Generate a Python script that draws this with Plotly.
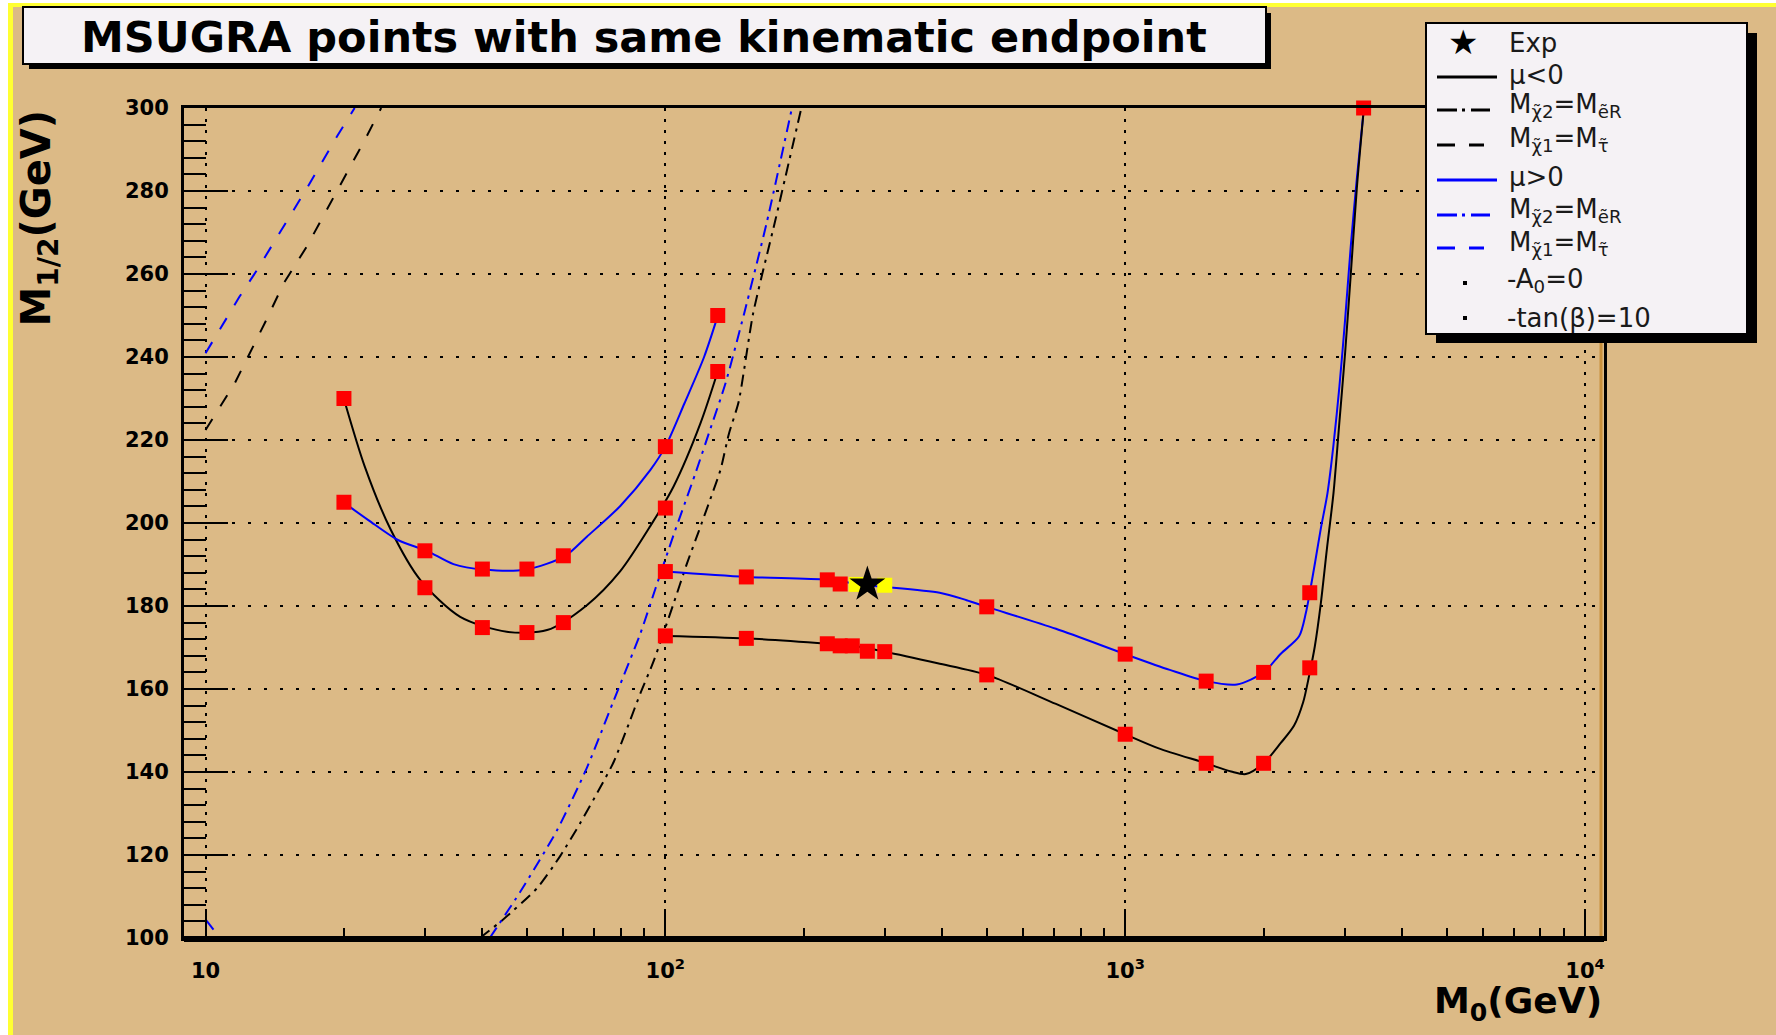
import plotly.graph_objects as go

# ---------------- data ----------------
x_tick_vals = [10, 100, 1000, 10000]
x_tick_text = ["10", "10<sup>2</sup>", "10<sup>3</sup>", "10<sup>4</sup>"]
x_minor_vals = [20, 30, 40, 50, 60, 70, 80, 90,
                200, 300, 400, 500, 600, 700, 800, 900,
                2000, 3000, 4000, 5000, 6000, 7000, 8000, 9000]
y_tick_vals = [100, 120, 140, 160, 180, 200, 220, 240, 260, 280, 300]
y_tick_text = ["100", "120", "140", "160", "180", "200", "220", "240", "260", "280", "300"]
y_minor_vals = [v for v in range(104, 300, 4) if v % 20 != 0]

# mu<0 (black), low-M0 branch
neg_up_m0 = [20, 22.2, 25.3, 29.3, 35.8, 45.2, 55.3, 67.5, 79.8, 92.8, 104.2, 119.2, 130]
neg_up_m12 = [229.9, 213.6, 198.3, 186.3, 177.4, 173.8, 174.2, 180.2, 188.4, 199.3, 208.8, 224.0, 236.5]
# mu<0 (black), high-M0 branch
neg_lo_m0 = [100, 150, 225, 255, 300, 391, 500, 707, 1000, 1183, 1500, 1700, 1830, 2000,
             2180, 2330, 2438, 2514, 2585, 2664, 2745, 2838, 2919, 3008, 3095, 3190, 3305]
neg_lo_m12 = [172.8, 172.2, 170.9, 170.4, 169.0, 166.2, 163.4, 156.4, 149.1, 145.7, 142.1, 140.1,
              139.5, 142.1, 147.0, 151.2, 156.8, 163.4, 170.3, 180.7, 193.6, 207.2, 223.5, 241.0,
              260.0, 280.7, 300.0]
# mu>0 (blue), low-M0 branch
pos_up_m0 = [20, 22.6, 26.2, 30.3, 34.6, 40.2, 49.8, 60.6, 67.5, 79.8, 92.8, 100, 110,
             121.4, 130]
pos_up_m12 = [204.9, 200.7, 195.9, 193.3, 190.1, 188.8, 188.8, 192.1, 196.7, 204.1, 212.8, 218.4,
              228.8, 240.0, 249.9]
# mu>0 (blue), high-M0 branch
pos_lo_m0 = [100, 150, 225, 275, 395, 452, 500, 707, 1000, 1250, 1500, 1750, 2000, 2180, 2389,
             2471, 2520, 2589, 2664, 2754, 2838, 2924, 3008, 3095, 3190, 3305]
pos_lo_m12 = [188.3, 187.0, 186.3, 185.0, 183.2, 181.4, 179.8, 174.5, 168.4, 164.6, 161.9, 161.1,
              164.0, 168.5, 172.7, 178.3, 183.2, 190.6, 198.7, 207.2, 218.8, 233.0, 249.0, 266.8,
              283.0, 300.0]

# constraint lines: M(chi2)=M(eR) (dash-dot) and M(chi1)=M(stau) (dashed)
neg_chi2_m0 = [39.5, 44.2, 52.6, 59.1, 65.3, 72.2, 77.2, 83.2, 88.2, 94.3, 104.2, 111.4, 118.2,
               125.3, 131.8, 137.4, 144.4, 155.2, 173.5, 197.6]
neg_chi2_m12 = [100, 104.3, 112.0, 119.8, 127.7, 136.3, 142.4, 151.5, 158.9, 166.7, 180.6, 190.2,
                198.0, 205.8, 212.8, 221.4, 229.3, 250.5, 273.0, 300.0]
pos_chi2_m0 = [41.5, 48.4, 58.1, 67.5, 77.2, 88.2, 95.1, 104.2, 116.2, 125.3, 135.1, 148.4, 166,
               188.5]
pos_chi2_m12 = [100, 111.2, 125.9, 141.0, 157.2, 173.3, 184.1, 197.1, 211.9, 222.7, 233.6, 250.5,
                272.2, 300.0]
neg_stau_m0 = [10, 11.58, 13.5, 14.8, 16.6, 19.4, 22.2, 24.1]
neg_stau_m12 = [222.4, 233.7, 248.5, 257.8, 266.6, 280.2, 292.3, 300.0]
pos_stau_m0 = [10, 11.85, 12.95, 14.8, 16.6, 19.4, 21.1, None, 10, 10.75]
pos_stau_m12 = [240.9, 254.5, 261.0, 271.4, 280.6, 293.5, 300.0, None, 104.5, 100.0]

# scan points (red markers)
pts_m0 = [20, 30, 40, 50, 60, 100, 130, 20, 30, 40, 50, 60, 100, 130,
          100, 150, 225, 240, 255, 275, 300, 500, 1000, 1500, 2000, 2520, 3300,
          100, 150, 225, 240, 500, 1000, 1500, 2000, 2520]
pts_m12 = [230.0, 184.4, 174.8, 173.6, 176.0, 203.6, 236.5, 205.0, 193.3, 188.9, 188.9, 192.1, 218.4, 250.0,
           172.8, 172.2, 170.9, 170.4, 170.4, 169.1, 169.0, 163.4, 149.1, 142.1, 142.1, 165.1, 300.0,
           188.3, 187.0, 186.3, 185.3, 179.8, 168.4, 161.9, 164.0, 183.2]
near_m0 = [260, 300]
near_m12 = [185.2, 185.0]
exp_m0 = [275]
exp_m12 = [185.2]

# ---------------- layout geometry helpers ----------------
W, H = 1776, 1035
L, R, T, B = 184, 1604, 108, 938


def px(x):
    return (x - L) / (R - L)


def py(y):
    return (B - y) / (B - T)


TAN = "rgb(220,186,134)"
BOX = "#F5F2F5"
BLUE = "#0000FF"
FONT = "DejaVu Sans"

fig = go.Figure()

line_w = 2
fig.add_trace(go.Scatter(x=neg_stau_m0, y=neg_stau_m12, mode="lines",
                         line=dict(color="black", width=line_w, dash="13px,15px")))
fig.add_trace(go.Scatter(x=pos_stau_m0, y=pos_stau_m12, mode="lines",
                         line=dict(color=BLUE, width=line_w, dash="13px,15px")))
fig.add_trace(go.Scatter(x=neg_chi2_m0, y=neg_chi2_m12, mode="lines",
                         line=dict(color="black", width=line_w, dash="12px,6px,3px,6px",
                                   shape="spline", smoothing=0.6)))
fig.add_trace(go.Scatter(x=pos_chi2_m0, y=pos_chi2_m12, mode="lines",
                         line=dict(color=BLUE, width=line_w, dash="12px,6px,3px,6px",
                                   shape="spline", smoothing=0.6)))
for xs, ys, c in [(neg_up_m0, neg_up_m12, "black"), (pos_up_m0, pos_up_m12, BLUE),
                  (pos_lo_m0, pos_lo_m12, BLUE), (neg_lo_m0, neg_lo_m12, "black")]:
    fig.add_trace(go.Scatter(x=xs, y=ys, mode="lines",
                             line=dict(color=c, width=line_w, shape="spline", smoothing=0.8)))

fig.add_trace(go.Scatter(x=pts_m0, y=pts_m12, mode="markers", cliponaxis=False,
                         marker=dict(symbol="square", size=15, color="#FF0000", line=dict(width=0))))
fig.add_trace(go.Scatter(x=near_m0, y=near_m12, mode="markers", cliponaxis=False,
                         marker=dict(symbol="square", size=15, color="#FFFF00", line=dict(width=0))))
fig.add_trace(go.Scatter(x=exp_m0, y=exp_m12, mode="markers", cliponaxis=False,
                         marker=dict(symbol="star", size=27, color="black", line=dict(width=0))))

tickfont = dict(family=FONT, size=21, color="black", weight="bold")
fig.update_xaxes(type="log", range=[0.9532, 4.0413], tickmode="array",
                 tickvals=x_tick_vals, ticktext=x_tick_text, tickfont=tickfont,
                 ticks="inside", ticklen=29, tickwidth=2, tickcolor="black",
                 ticklabelstandoff=12,
                 showgrid=True, gridcolor="black", gridwidth=2, griddash="3px,8px",
                 showline=True, linecolor="black", linewidth=3, mirror=True, zeroline=False,
                 minor=dict(tickmode="array", tickvals=x_minor_vals, ticks="inside",
                            ticklen=10, tickwidth=2, tickcolor="black", showgrid=False))
fig.update_yaxes(range=[100, 300], tickmode="array", tickvals=y_tick_vals, ticktext=y_tick_text,
                 tickfont=tickfont, ticks="inside", ticklen=44, tickwidth=2, tickcolor="black",
                 ticklabelstandoff=8,
                 showgrid=True, gridcolor="black", gridwidth=2, griddash="3px,13px",
                 showline=True, linecolor="black", linewidth=3, mirror=True, zeroline=False,
                 minor=dict(tickmode="array", tickvals=y_minor_vals, ticks="inside",
                            ticklen=22, tickwidth=2, tickcolor="black", showgrid=False))

shapes = []


def rect(x0, y0, x1, y1, fill, line_color=None, lw=0, layer="above"):
    shapes.append(dict(type="rect", xref="paper", yref="paper", x0=px(x0), x1=px(x1),
                       y0=py(y1), y1=py(y0), fillcolor=fill, layer=layer,
                       line=dict(width=lw, color=line_color or fill)))


def hline(x0, x1, y, color, width, dash="solid"):
    shapes.append(dict(type="line", xref="paper", yref="paper", x0=px(x0), x1=px(x1),
                       y0=py(y), y1=py(y), layer="above",
                       line=dict(color=color, width=width, dash=dash)))


# page borders (white / yellow strips)
rect(0, 0, 8, H, "white")
rect(8, 0, 13, H, "#FFFF33")
rect(0, 0, W, 3, "white")
rect(8, 3, W, 7, "#FFFF33")
# thin brown strip inside right frame, thick bottom frame
shapes.append(dict(type="line", xref="paper", yref="paper", x0=px(1601), x1=px(1601), y0=0, y1=1,
                   layer="above", line=dict(color="#C8903C", width=3)))
hline(L, R, 939, "black", 6)

# title box
rect(29, 13, 1271, 69, "black")
rect(23, 7, 1266, 64, BOX, "black", 2)
# legend box
rect(1436, 33, 1757, 343, "black")
rect(1426, 23, 1747, 334, BOX, "black", 2)

# legend line samples
hline(1437, 1497, 77, "black", 3)
hline(1437, 1490, 110, "black", 3, "20px,5px,3px,6px")
hline(1437, 1484, 145, "black", 3, "18px,14px")
hline(1437, 1497, 180, BLUE, 3)
hline(1437, 1490, 215, BLUE, 3, "20px,5px,3px,6px")
hline(1437, 1484, 248, BLUE, 3, "18px,14px")
rect(1463, 281, 1467, 285, "black")
rect(1463, 316, 1467, 320, "black")

annotations = []


def text(x, y, s, size, xanchor="left", yanchor="middle", bold=False, angle=0, color="black"):
    annotations.append(dict(x=px(x), y=py(y), xref="paper", yref="paper", text=s, showarrow=False,
                            xanchor=xanchor, yanchor=yanchor, textangle=angle,
                            font=dict(family=FONT, size=size, color=color,
                                      weight="bold" if bold else "normal")))


text(644, 37, "MSUGRA points with same kinematic endpoint", 43, xanchor="center", bold=True)
text(38, T, "M<sub>1/2</sub>(GeV)", 40, xanchor="center", yanchor="top", bold=True, angle=-90)
text(R, 1003, "M<sub>0</sub>(GeV)", 36, xanchor="right", bold=True)

leg_c = "#1a1a1a"
LF = 26
text(1463, 42, "★", 34, xanchor="center", color="black")
text(1507, 43, "Exp", LF, color=leg_c)
text(1507, 75, "μ&lt;0", LF, color=leg_c)
text(1507, 106, "M<sub>χ̃2</sub>=M<sub>ẽR</sub>", LF, color=leg_c)
text(1507, 140, "M<sub>χ̃1</sub>=M<sub>τ̃</sub>", LF, color=leg_c)
text(1507, 177, "μ&gt;0", LF, color=leg_c)
text(1507, 210, "M<sub>χ̃2</sub>=M<sub>ẽR</sub>", LF, color=leg_c)
text(1507, 244, "M<sub>χ̃1</sub>=M<sub>τ̃</sub>", LF, color=leg_c)
text(1505, 280, "-A<sub>0</sub>=0", LF, color=leg_c)
text(1505, 318, "-tan(β)=10", LF, color=leg_c)

fig.update_layout(width=W, height=H, margin=dict(l=L, r=W - R, t=T, b=H - B, pad=0),
                  paper_bgcolor=TAN, plot_bgcolor=TAN, showlegend=False,
                  shapes=shapes, annotations=annotations)

fig.write_html("out.html")
